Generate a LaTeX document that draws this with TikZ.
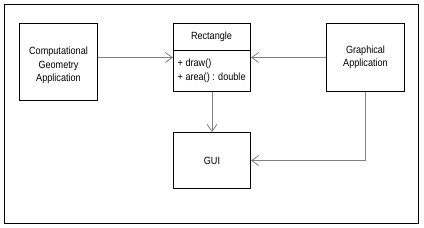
\documentclass[tikz,border=0pt]{standalone}
\usepackage{fontspec}
\setmainfont{Liberation Sans}[FakeStretch=0.87]
\usepackage{tikz}
\usetikzlibrary{arrows.meta,positioning}

\begin{document}
\begin{tikzpicture}[
  x=1bp, y=-1bp,
  box/.style={draw,line width=1bp,inner sep=0pt,anchor=north west,align=center,
    font=\fontsize{10.5}{13.5}\selectfont},
  txt/.style={inner sep=0pt,align=left,font=\fontsize{10.5}{13.5}\selectfont},
  arr/.style={-{Straight Barb[length=7bp,width=10bp]},draw=black!50,line width=0.8bp}
]
\useasboundingbox (0,0) rectangle (424,228);
\draw[line width=1bp] (4.5,4.5) rectangle (418.5,223.5);
% boxes
\node[box,minimum width=78bp,minimum height=77bp] (cga) at (19,23) {};
\node[txt,align=center] (cgatext) at ([yshift=-3.5bp]cga.center) {Computational\\Geometry\\Application};
\node[box,minimum width=77bp,minimum height=68bp] (rect) at (173,23) {};
\node[txt] (recttitle) at (211.5,36.7) {Rectangle};
\draw[line width=1bp] (rect.west |- 0,50.5) -- (rect.east |- 0,50.5);
\node[txt,anchor=west] (rectops) at (177.5,71) {+ draw()\\+ area() : double};
\node[box,minimum width=78bp,minimum height=68bp] (graph) at (326,23) {Graphical\\Application};
\node[box,minimum width=77bp,minimum height=56bp] (gui) at (173,132) {GUI};
% connectors
\draw[arr] (cga.east |- rect.west) -- (rect.west);
\draw[arr] (graph.west) -- (rect.east);
\draw[arr] (rect.south) -- (gui.north);
\draw[arr] (graph.south) |- (gui.east);
\end{tikzpicture}
\end{document}
